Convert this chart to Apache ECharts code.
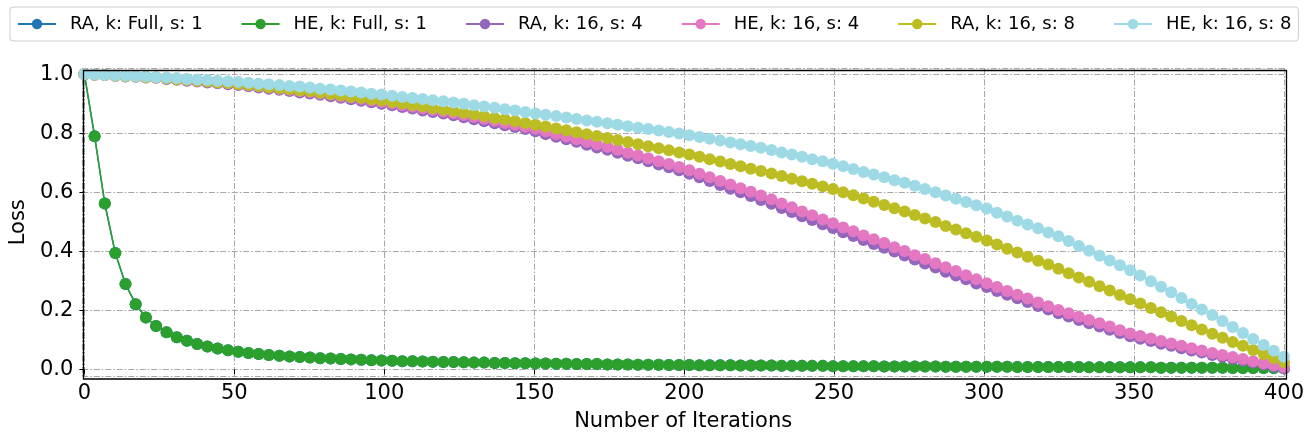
<!DOCTYPE html>
<html>
<head>
<meta charset="utf-8">
<script src="https://cdn.jsdelivr.net/npm/echarts@6/dist/echarts.min.js"></script>
<style>
	html, body { margin: 0; padding: 0; background: #fff; }
	#chartmain { width: 1316px; height: 439px; }
</style>
</head>
<body>
<div id="chartmain"></div>
<script>
// iterations at which the loss was logged
var iters = [
	0, 3.4, 6.8, 10.3, 13.7, 17.1, 20.5, 23.9, 27.4, 30.8,
	34.2, 37.6, 41.0, 44.4, 47.9, 51.3, 54.7, 58.1, 61.5, 65.0,
	68.4, 71.8, 75.2, 78.6, 82.1, 85.5, 88.9, 92.3, 95.7, 99.1,
	102.6, 106.0, 109.4, 112.8, 116.2, 119.7, 123.1, 126.5, 129.9, 133.3,
	136.8, 140.2, 143.6, 147.0, 150.4, 153.8, 157.3, 160.7, 164.1, 167.5,
	170.9, 174.4, 177.8, 181.2, 184.6, 188.0, 191.5, 194.9, 198.3, 201.7,
	205.1, 208.5, 212.0, 215.4, 218.8, 222.2, 225.6, 229.1, 232.5, 235.9,
	239.3, 242.7, 246.2, 249.6, 253.0, 256.4, 259.8, 263.2, 266.7, 270.1,
	273.5, 276.9, 280.3, 283.8, 287.2, 290.6, 294.0, 297.4, 300.9, 304.3,
	307.7, 311.1, 314.5, 318.0, 321.4, 324.8, 328.2, 331.6, 335.0, 338.5,
	341.9, 345.3, 348.7, 352.1, 355.6, 359.0, 362.4, 365.8, 369.2, 372.6,
	376.1, 379.5, 382.9, 386.3, 389.7, 393.2, 396.6, 400
];

var raFull = [
	1.000, 0.790, 0.562, 0.394, 0.289, 0.221, 0.176, 0.147, 0.126, 0.109,
	0.097, 0.086, 0.078, 0.071, 0.065, 0.060, 0.056, 0.052, 0.049, 0.046,
	0.044, 0.042, 0.040, 0.038, 0.037, 0.035, 0.034, 0.033, 0.031, 0.030,
	0.029, 0.028, 0.028, 0.027, 0.026, 0.025, 0.025, 0.024, 0.023, 0.023,
	0.022, 0.022, 0.021, 0.021, 0.020, 0.020, 0.019, 0.019, 0.018, 0.018,
	0.018, 0.017, 0.017, 0.017, 0.016, 0.016, 0.016, 0.015, 0.015, 0.015,
	0.014, 0.014, 0.014, 0.014, 0.013, 0.013, 0.013, 0.013, 0.012, 0.012,
	0.012, 0.012, 0.012, 0.011, 0.011, 0.011, 0.011, 0.011, 0.010, 0.010,
	0.010, 0.010, 0.010, 0.010, 0.009, 0.009, 0.009, 0.009, 0.009, 0.009,
	0.009, 0.008, 0.008, 0.008, 0.008, 0.008, 0.008, 0.008, 0.007, 0.007,
	0.007, 0.007, 0.007, 0.007, 0.007, 0.006, 0.006, 0.006, 0.006, 0.006,
	0.006, 0.006, 0.005, 0.005, 0.005, 0.005, 0.005, 0.004
];
// HE with full k lies exactly on top of RA
var heFull = raFull;

var ra16s4 = [
	1.000, 0.998, 0.997, 0.995, 0.992, 0.991, 0.989, 0.988, 0.984, 0.981,
	0.978, 0.975, 0.972, 0.969, 0.966, 0.963, 0.959, 0.955, 0.951, 0.947,
	0.943, 0.938, 0.935, 0.930, 0.925, 0.920, 0.915, 0.910, 0.905, 0.900,
	0.895, 0.889, 0.884, 0.877, 0.872, 0.867, 0.861, 0.854, 0.847, 0.841,
	0.834, 0.827, 0.821, 0.814, 0.807, 0.797, 0.788, 0.780, 0.771, 0.761,
	0.752, 0.744, 0.734, 0.724, 0.715, 0.705, 0.694, 0.685, 0.675, 0.663,
	0.651, 0.638, 0.625, 0.612, 0.600, 0.587, 0.574, 0.561, 0.547, 0.533,
	0.519, 0.506, 0.492, 0.479, 0.465, 0.452, 0.438, 0.425, 0.412, 0.399,
	0.386, 0.372, 0.359, 0.345, 0.331, 0.318, 0.305, 0.291, 0.279, 0.266,
	0.253, 0.241, 0.228, 0.215, 0.203, 0.190, 0.179, 0.167, 0.156, 0.145,
	0.134, 0.123, 0.112, 0.104, 0.096, 0.087, 0.080, 0.072, 0.064, 0.057,
	0.049, 0.043, 0.036, 0.030, 0.023, 0.017, 0.010, 0.003
];

var he16s4 = [
	1.000, 0.998, 0.997, 0.995, 0.993, 0.992, 0.990, 0.989, 0.986, 0.983,
	0.980, 0.977, 0.975, 0.972, 0.969, 0.966, 0.962, 0.958, 0.955, 0.951,
	0.947, 0.943, 0.940, 0.935, 0.930, 0.925, 0.921, 0.916, 0.911, 0.906,
	0.901, 0.895, 0.890, 0.884, 0.879, 0.874, 0.868, 0.862, 0.855, 0.849,
	0.842, 0.835, 0.829, 0.822, 0.815, 0.806, 0.797, 0.789, 0.780, 0.771,
	0.762, 0.754, 0.744, 0.734, 0.725, 0.715, 0.705, 0.696, 0.686, 0.675,
	0.663, 0.651, 0.638, 0.626, 0.614, 0.602, 0.589, 0.576, 0.562, 0.549,
	0.535, 0.522, 0.508, 0.495, 0.481, 0.468, 0.454, 0.441, 0.428, 0.414,
	0.401, 0.387, 0.374, 0.360, 0.346, 0.333, 0.319, 0.305, 0.292, 0.279,
	0.266, 0.253, 0.240, 0.227, 0.214, 0.201, 0.190, 0.178, 0.167, 0.156,
	0.145, 0.133, 0.122, 0.113, 0.105, 0.096, 0.088, 0.080, 0.072, 0.064,
	0.056, 0.049, 0.042, 0.035, 0.028, 0.021, 0.014, 0.007
];

var ra16s8 = [
	1.000, 0.998, 0.997, 0.995, 0.993, 0.992, 0.990, 0.989, 0.986, 0.983,
	0.981, 0.978, 0.975, 0.972, 0.970, 0.967, 0.963, 0.960, 0.956, 0.952,
	0.949, 0.945, 0.942, 0.937, 0.933, 0.929, 0.924, 0.920, 0.915, 0.911,
	0.906, 0.901, 0.896, 0.891, 0.885, 0.880, 0.875, 0.869, 0.864, 0.858,
	0.852, 0.847, 0.841, 0.835, 0.829, 0.823, 0.816, 0.810, 0.803, 0.797,
	0.791, 0.784, 0.777, 0.770, 0.763, 0.756, 0.749, 0.742, 0.735, 0.728,
	0.720, 0.712, 0.704, 0.696, 0.688, 0.680, 0.672, 0.664, 0.655, 0.646,
	0.637, 0.629, 0.620, 0.611, 0.600, 0.590, 0.579, 0.568, 0.557, 0.546,
	0.535, 0.523, 0.511, 0.499, 0.486, 0.474, 0.461, 0.449, 0.437, 0.423,
	0.409, 0.396, 0.382, 0.368, 0.355, 0.341, 0.326, 0.311, 0.297, 0.282,
	0.267, 0.252, 0.238, 0.223, 0.208, 0.194, 0.179, 0.164, 0.150, 0.135,
	0.121, 0.107, 0.093, 0.080, 0.066, 0.052, 0.039, 0.025
];

var he16s8 = [
	1.000, 0.999, 0.997, 0.996, 0.995, 0.993, 0.992, 0.990, 0.989, 0.987,
	0.984, 0.982, 0.980, 0.978, 0.976, 0.974, 0.971, 0.968, 0.966, 0.963,
	0.960, 0.958, 0.955, 0.951, 0.948, 0.945, 0.941, 0.938, 0.934, 0.931,
	0.927, 0.923, 0.919, 0.916, 0.912, 0.908, 0.904, 0.900, 0.895, 0.891,
	0.886, 0.881, 0.877, 0.872, 0.867, 0.863, 0.858, 0.853, 0.848, 0.843,
	0.839, 0.834, 0.829, 0.824, 0.819, 0.814, 0.809, 0.804, 0.799, 0.793,
	0.787, 0.781, 0.775, 0.769, 0.763, 0.757, 0.751, 0.743, 0.735, 0.728,
	0.720, 0.712, 0.705, 0.697, 0.688, 0.679, 0.669, 0.660, 0.651, 0.641,
	0.632, 0.622, 0.611, 0.600, 0.589, 0.578, 0.567, 0.556, 0.545, 0.531,
	0.518, 0.504, 0.491, 0.478, 0.464, 0.451, 0.435, 0.418, 0.402, 0.385,
	0.369, 0.353, 0.336, 0.318, 0.299, 0.280, 0.261, 0.242, 0.222, 0.203,
	0.184, 0.164, 0.144, 0.123, 0.103, 0.083, 0.063, 0.043
];

var names = ['RA, k: Full, s: 1', 'HE, k: Full, s: 1', 'RA, k: 16, s: 4',
	'HE, k: 16, s: 4', 'RA, k: 16, s: 8', 'HE, k: 16, s: 8'];
var colors = ['#1f77b4', '#2ca02c', '#9467bd', '#e377c2', '#bcbd22', '#9edae5'];
var values = [raFull, heFull, ra16s4, he16s4, ra16s8, he16s8];

var font = 'DejaVu Sans';
var gridLine = { color: '#a6a6a6', width: 1, type: [6, 2, 1.5, 2] };

// plot frame, in pixels
var plotL = 81, plotR = 32, plotT = 68, plotB = 62.5;

var series = values.map(function(vals, k) {
	return {
		name : names[k],
		type : 'line',
		data : iters.map(function(x, i) { return [x, vals[i]]; }),
		symbol : 'circle',
		symbolSize : 12,
		showAllSymbol : true,
		clip : false,
		lineStyle : { width : 1.5, color : colors[k] },
		itemStyle : { color : colors[k] },
		emphasis : { disabled : true },
		animation : false
	};
});

var option = {
	color : colors,
	animation : false,
	legend : {
		left : 10,
		top : 7,
		padding : [8, 7, 8, 7],
		itemGap : 38,
		itemWidth : 38,
		itemHeight : 13,
		borderColor : '#cccccc',
		borderWidth : 1,
		borderRadius : 3,
		textStyle : {
			fontFamily : font,
			fontSize : 18,
			color : '#000',
			padding : [0, 0, 0, 9]
		},
		data : names
	},
	grid : {
		left : plotL,
		right : plotR,
		top : plotT,
		bottom : plotB,
		containLabel : false
	},
	graphic : [{
		type : 'rect',
		left : plotL,
		top : plotT,
		z : 100,
		silent : true,
		shape : { width : 1316 - plotL - plotR, height : 439 - plotT - plotB },
		style : { fill : null, stroke : '#000', lineWidth : 1.3 }
	}],
	xAxis : {
		type : 'value',
		min : -0.7,
		max : 400,
		splitNumber : 8,
		name : 'Number of Iterations',
		nameLocation : 'middle',
		nameGap : 35,
		nameTextStyle : { fontFamily : font, fontSize : 21, color : '#000' },
		axisLine : { show : false },
		axisTick : { show : true, length : 5, lineStyle : { color : '#000' } },
		axisLabel : {
			fontFamily : font, fontSize : 21, color : '#000', margin : 7,
			showMinLabel : false
		},
		splitLine : { show : true, lineStyle : gridLine }
	},
	yAxis : {
		type : 'value',
		min : -0.024,
		max : 1.021,
		splitNumber : 5,
		name : 'Loss',
		nameLocation : 'middle',
		nameGap : 48,
		nameTextStyle : { fontFamily : font, fontSize : 21, color : '#000' },
		axisLine : { show : false },
		axisTick : { show : true, length : 5, lineStyle : { color : '#000' } },
		axisLabel : {
			fontFamily : font, fontSize : 21, color : '#000', margin : 9,
			showMinLabel : false,
			showMaxLabel : false,
			formatter : function(v) { return v.toFixed(1); }
		},
		splitLine : { show : true, lineStyle : gridLine }
	},
	series : series
};

var myChart = echarts.init(document.getElementById('chartmain'));
myChart.setOption(option);
</script>
</body>
</html>
